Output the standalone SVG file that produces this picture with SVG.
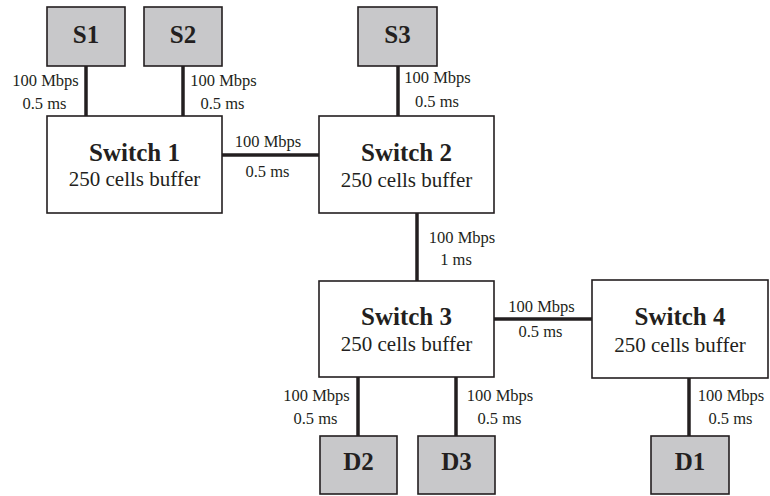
<svg xmlns="http://www.w3.org/2000/svg" width="770" height="496" viewBox="0 0 770 496">
<style>
.host{fill:#c8c8ca;stroke:#231f20;stroke-width:1.6}
.sw{fill:#fff;stroke:#231f20;stroke-width:1.6}
text{font-family:"Liberation Serif","Times New Roman",Tinos,"DejaVu Serif",serif;fill:#231f20;text-anchor:middle}
.ht{font-weight:bold;font-size:25px}
.st{font-weight:bold;font-size:25px}
.bt{font-size:21px}
.lt{font-size:16.5px}
.ln{stroke:#231f20;stroke-width:3.5;fill:none}
</style>
<rect width="770" height="496" fill="#fff"/>
<g id="connectors">
<line class="ln" x1="86" y1="66" x2="86" y2="116"/>
<line class="ln" x1="183" y1="66" x2="183" y2="116"/>
<line class="ln" x1="398" y1="66" x2="398" y2="116"/>
<line class="ln" x1="222" y1="155" x2="320" y2="155"/>
<line class="ln" x1="417" y1="213" x2="417" y2="281"/>
<line class="ln" x1="494" y1="319" x2="593" y2="319"/>
<line class="ln" x1="358" y1="377" x2="358" y2="436"/>
<line class="ln" x1="456" y1="377" x2="456" y2="436"/>
<line class="ln" x1="689" y1="378" x2="689" y2="436"/>
<text class="lt" x="45.5" y="86">100 Mbps</text>
<text class="lt" x="44.5" y="109">0.5 ms</text>
<text class="lt" x="223.5" y="86">100 Mbps</text>
<text class="lt" x="222.5" y="109">0.5 ms</text>
<text class="lt" x="437.5" y="83">100 Mbps</text>
<text class="lt" x="437" y="107">0.5 ms</text>
<text class="lt" x="268" y="147">100 Mbps</text>
<text class="lt" x="267.5" y="177">0.5 ms</text>
<text class="lt" x="462" y="243">100 Mbps</text>
<text class="lt" x="456" y="265">1 ms</text>
<text class="lt" x="541.5" y="312">100 Mbps</text>
<text class="lt" x="540.5" y="337">0.5 ms</text>
<text class="lt" x="316.5" y="401">100 Mbps</text>
<text class="lt" x="315.5" y="424">0.5 ms</text>
<text class="lt" x="500" y="401">100 Mbps</text>
<text class="lt" x="499.5" y="424">0.5 ms</text>
<text class="lt" x="731" y="401">100 Mbps</text>
<text class="lt" x="730.5" y="424">0.5 ms</text>
</g>
<g id="S1"><rect class="host" x="47" y="7" width="78" height="59"/><text class="ht" x="86" y="43">S1</text></g>
<g id="S2"><rect class="host" x="144" y="7" width="78" height="59"/><text class="ht" x="183" y="43">S2</text></g>
<g id="S3"><rect class="host" x="358" y="7" width="79" height="59"/><text class="ht" x="397.5" y="43">S3</text></g>
<g id="Switch1"><rect class="sw" x="47" y="116" width="175" height="97"/><text class="st" x="134.5" y="161">Switch 1</text><text class="bt" x="134.5" y="186">250 cells buffer</text></g>
<g id="Switch2"><rect class="sw" x="319" y="116" width="175" height="97"/><text class="st" x="406.5" y="161">Switch 2</text><text class="bt" x="406.5" y="187">250 cells buffer</text></g>
<g id="Switch3"><rect class="sw" x="319" y="281" width="175" height="96"/><text class="st" x="406.5" y="325">Switch 3</text><text class="bt" x="406.5" y="351">250 cells buffer</text></g>
<g id="Switch4"><rect class="sw" x="592" y="280" width="176" height="98"/><text class="st" x="680" y="325">Switch 4</text><text class="bt" x="680" y="352">250 cells buffer</text></g>
<g id="D2"><rect class="host" x="320" y="436" width="77" height="58"/><text class="ht" x="358.5" y="470">D2</text></g>
<g id="D3"><rect class="host" x="418" y="436" width="77" height="58"/><text class="ht" x="456.5" y="470">D3</text></g>
<g id="D1"><rect class="host" x="651" y="436" width="78" height="58"/><text class="ht" x="690" y="470">D1</text></g>
</svg>
